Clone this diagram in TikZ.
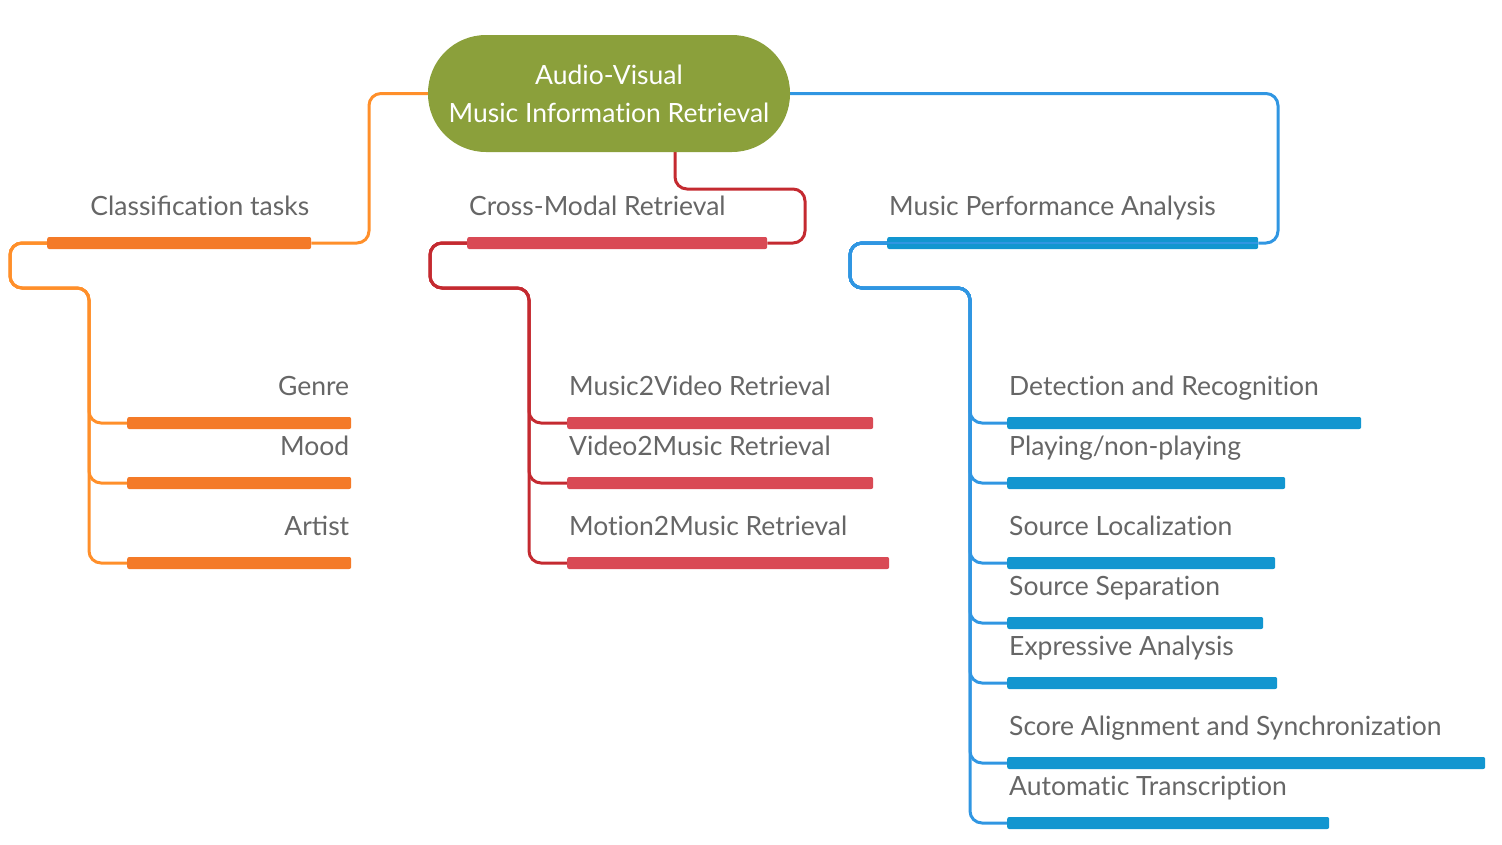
\documentclass[tikz,border=0pt]{standalone}
\usepackage{fontspec}
\setmainfont{Lato}
\usetikzlibrary{calc,backgrounds}
\newcommand{\tkI}{t\kern0pt i}
\definecolor{rootgreen}{HTML}{8BA03B}
\definecolor{obar}{HTML}{F47A28}
\definecolor{oline}{HTML}{FF8F2A}
\definecolor{rbar}{HTML}{D94A55}
\definecolor{rline}{HTML}{C42A30}
\definecolor{bbar}{HTML}{1296D0}
\definecolor{bline}{HTML}{3096E2}
\definecolor{txtgray}{HTML}{666666}
\tikzset{
  rootnode/.style={rectangle, rounded corners=58pt, fill=rootgreen, text=white,
    minimum width=362pt, minimum height=117pt, align=center, inner sep=0pt,
    font=\fontsize{26.5}{38}\selectfont},
  barnode/.style={rectangle, rounded corners=2pt, minimum height=12pt, inner sep=0pt, anchor=west},
  orangebar/.style={barnode, fill=obar},
  redbar/.style={barnode, fill=rbar},
  bluebar/.style={barnode, fill=bbar},
  label/.style={inner sep=0pt, text=txtgray, font=\fontsize{26.5}{32}\selectfont},
  lwest/.style={label, anchor=base west},
  least/.style={label, anchor=base east},
  oconn/.style={draw=oline, line width=3pt, rounded corners=12pt},
  rconn/.style={draw=rline, line width=3pt, rounded corners=12pt},
  bconn/.style={draw=bline, line width=3pt, rounded corners=12pt},
}
\begin{document}
\begin{tikzpicture}[x=1pt,y=-1pt]
\useasboundingbox (0,0) rectangle (1502,844);

% ---------- root ----------
\node[rootnode] (root) at (609,93.5) {Audio-Visual\\Music Informa\tkI on Retrieval};

% ---------- top-level bars ----------
\node[orangebar, minimum width=264pt] (cbar) at (47,243) {};
\node[redbar, minimum width=300pt] (rbar) at (467,243) {};
\node[bluebar, minimum width=371pt] (bbar) at (887,243) {};

% ---------- child bars ----------
\node[orangebar, minimum width=224pt] (g1) at (127,423) {};
\node[orangebar, minimum width=224pt] (g2) at (127,483) {};
\node[orangebar, minimum width=224pt] (g3) at (127,563) {};

\node[redbar, minimum width=306pt] (r1) at (567,423) {};
\node[redbar, minimum width=306pt] (r2) at (567,483) {};
\node[redbar, minimum width=322pt] (r3) at (567,563) {};

\node[bluebar, minimum width=354pt] (b1) at (1007,423) {};
\node[bluebar, minimum width=278pt] (b2) at (1007,483) {};
\node[bluebar, minimum width=268pt] (b3) at (1007,563) {};
\node[bluebar, minimum width=256pt] (b4) at (1007,623) {};
\node[bluebar, minimum width=270pt] (b5) at (1007,683) {};
\node[bluebar, minimum width=478pt] (b6) at (1007,763) {};
\node[bluebar, minimum width=322pt] (b7) at (1007,823) {};

% ---------- connectors ----------
\begin{scope}[on background layer]
\draw[oconn] (root.west) -| (369,243) -- (cbar.east);
\draw[rconn] ([xshift=66pt]root.south) |- (805,189) |- (rbar.east);
\draw[bconn] (root.east) -| (1278,243) -- (bbar.east);

\foreach \c in {g1,g2,g3}
  \draw[oconn] (cbar.west) -- (10,243) |- (89,288) |- (\c.west);
\foreach \c in {r1,r2,r3}
  \draw[rconn] (rbar.west) -- (430,243) |- (529,288) |- (\c.west);
\foreach \c in {b1,b2,b3,b4,b5,b6,b7}
  \draw[bconn] (bbar.west) -- (850,243) |- (970,288) |- (\c.west);
\end{scope}
\draw[bline, line width=2pt] (bbar.east) -- (bbar.west);

% ---------- labels ----------
\node[least] (tc) at ([xshift=-2pt,yshift=28pt]cbar.east) {Classifica\tkI on tasks};
\node[lwest] (tr) at ([xshift=2pt,yshift=28pt]rbar.west) {Cross-Modal Retrieval};
\node[lwest] (tb) at ([xshift=2pt,yshift=28pt]bbar.west) {Music Performance Analysis};

\node[least] (tg1) at ([xshift=-2pt,yshift=28pt]g1.east) {Genre};
\node[least] (tg2) at ([xshift=-2pt,yshift=28pt]g2.east) {Mood};
\node[least] (tg3) at ([xshift=-2pt,yshift=28pt]g3.east) {Artist};

\node[lwest] (tr1) at ([xshift=2pt,yshift=28pt]r1.west) {Music2Video Retrieval};
\node[lwest] (tr2) at ([xshift=2pt,yshift=28pt]r2.west) {Video2Music Retrieval};
\node[lwest] (tr3) at ([xshift=2pt,yshift=28pt]r3.west) {Mo\tkI on2Music Retrieval};

\node[lwest] (tb1) at ([xshift=2pt,yshift=28pt]b1.west) {Detec\tkI on and Recogni\tkI on};
\node[lwest] (tb2) at ([xshift=2pt,yshift=28pt]b2.west) {Playing/non-playing};
\node[lwest] (tb3) at ([xshift=2pt,yshift=28pt]b3.west) {Source Localiza\tkI on};
\node[lwest] (tb4) at ([xshift=2pt,yshift=28pt]b4.west) {Source Separa\tkI on};
\node[lwest] (tb5) at ([xshift=2pt,yshift=28pt]b5.west) {Expressive Analysis};
\node[lwest] (tb6) at ([xshift=2pt,yshift=28pt]b6.west) {Score Alignment and Synchroniza\tkI on};
\node[lwest] (tb7) at ([xshift=2pt,yshift=28pt]b7.west) {Automa\tkI c Transcrip\tkI on};
\end{tikzpicture}
\end{document}
